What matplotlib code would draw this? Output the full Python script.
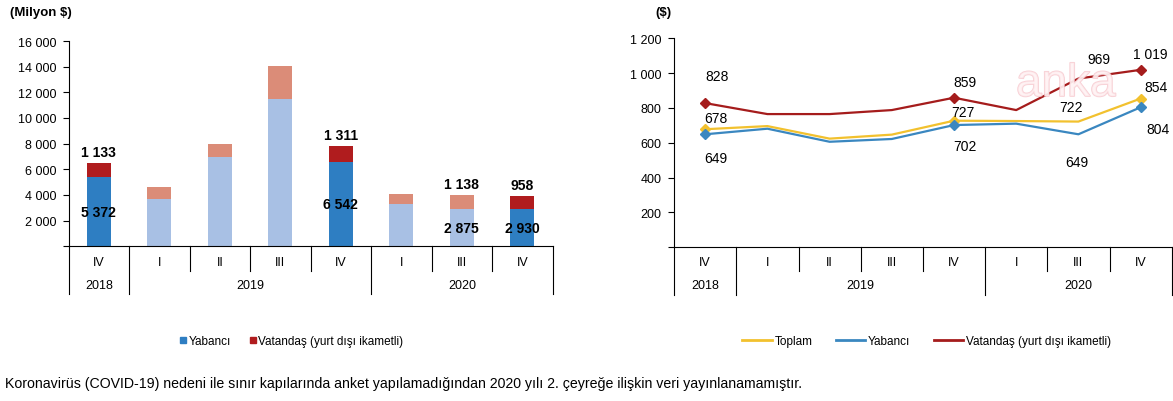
import matplotlib.pyplot as plt
import matplotlib.patheffects as pe
from matplotlib.lines import Line2D
import numpy as np

plt.rcParams['font.family'] = ['Liberation Sans', 'DejaVu Sans']

# kategoriler (2020 Q2 yok)
quarters = ["IV", "I", "II", "III", "IV", "I", "III", "IV"]
years = ["2018", "2019", "2020"]
year_pos = [0, 2.5, 6]

# gelir, milyon $
foreign_spend = [5372, 3662, 6934, 11479, 6542, 3272, 2875, 2930]
citizen_spend = [1133, 935, 1013, 2545, 1311, 779, 1138, 958]
highlight = [True, False, False, False, True, False, False, True]
bar_labelled = [True, False, False, False, True, False, True, True]

# kişi başı harcama, $
total_avg = [678, 696, 624, 647, 727, 725, 722, 854]
foreign_avg = [649, 681, 606, 622, 702, 710, 649, 804]
citizen_avg = [828, 765, 765, 788, 859, 788, 969, 1019]
line_labelled = [0, 4, 6, 7]
line_marked = [0, 4, 7]

# etiket kaydırmaları (piksel)
off_total = [(11, 11), (9, 9), (-7, 15), (15, 12)]
off_foreign = [(11, -24), (11, -21), (-2, -28), (17, -22)]
off_citizen = [(12, 27), (11, 16), (20, 20), (10, 16)]

BLUE_D, BLUE_L = "#2e7ec2", "#a8c0e4"
RED_D, RED_L = "#b01c1e", "#db8c78"
C_TOTAL, C_FOREIGN, C_CITIZEN = "#f2c12e", "#3a87c0", "#a51c1c"


def fmt(v):
    return f"{v:,}".replace(",", " ")


def _format_axes(ax, ymax, step, short_y, long_y, q_y, y_y):
    ax.set_xlim(-0.5, 7.5)
    ax.set_ylim(0, ymax)
    ticks = np.arange(0, ymax + 1, step)
    ax.set_yticks(ticks)
    ax.set_yticklabels([""] + [fmt(int(t)) for t in ticks[1:]], fontsize=9)
    ax.tick_params(axis="y", length=4, width=0.8, pad=5)
    ax.set_xticks([])
    for s in ("top", "right"):
        ax.spines[s].set_visible(False)
    for s in ("left", "bottom"):
        ax.spines[s].set_linewidth(0.8)
    tr = ax.get_xaxis_transform()
    for xb in np.arange(-0.5, 8, 1):
        y_end = long_y if xb in (-0.5, 0.5, 4.5, 7.5) else short_y
        ax.plot([xb, xb], [0, y_end], color="black", lw=0.8,
                transform=tr, clip_on=False)
    for i, q in enumerate(quarters):
        ax.text(i, q_y, q, transform=tr, ha="center", va="center", fontsize=9)
    for yr, xp in zip(years, year_pos):
        ax.text(xp, y_y, yr, transform=tr, ha="center", va="center", fontsize=9)


fig = plt.figure(figsize=(11.73, 4.02), dpi=100)

# --- sol: gelir çubukları
ax1 = fig.add_axes([0.0585, 0.3848, 0.4126, 0.5107])
x = np.arange(len(quarters))
ax1.bar(x, foreign_spend, width=0.4,
        color=[BLUE_D if h else BLUE_L for h in highlight])
ax1.bar(x, citizen_spend, width=0.4, bottom=foreign_spend,
        color=[RED_D if h else RED_L for h in highlight])
for i in x:
    if not bar_labelled[i]:
        continue
    top = foreign_spend[i] + citizen_spend[i]
    ax1.annotate(fmt(citizen_spend[i]), (i, top), xytext=(0, 11),
                 textcoords="offset pixels", ha="center", va="center",
                 fontsize=10, fontweight="bold")
    ax1.text(i, foreign_spend[i] / 2, fmt(foreign_spend[i]), ha="center",
             va="center", fontsize=10, fontweight="bold")
_format_axes(ax1, 16000, 2000, -0.12, -0.232, -0.0765, -0.188)

# --- sağ: kişi başı harcama
ax2 = fig.add_axes([0.5747, 0.3823, 0.4242, 0.5199])
series = [(total_avg, C_TOTAL, off_total),
          (foreign_avg, C_FOREIGN, off_foreign),
          (citizen_avg, C_CITIZEN, off_citizen)]
for vals, col, offs in series:
    ax2.plot(x, vals, color=col, lw=1.6, marker="D", markersize=5,
             markevery=line_marked)
    for idx, (dx, dy) in zip(line_labelled, offs):
        ax2.annotate(fmt(vals[idx]), (idx, vals[idx]), xytext=(dx, dy),
                     textcoords="offset pixels", ha="center", va="center",
                     fontsize=10)
_format_axes(ax2, 1200, 200, -0.113, -0.228, -0.070, -0.180)

# başlıklar
fig.text(10 / 1173, 1 - 13 / 402, "(Milyon $)", fontsize=9.5,
         fontweight="bold", va="center")
fig.text(655 / 1173, 1 - 13 / 402, "($)", fontsize=9.5,
         fontweight="bold", va="center")

# filigran
fig.text(1066 / 1173, 1 - 97 / 402, "anka", fontsize=33, color="#fff3f4",
         ha="center", va="baseline", alpha=0.7, zorder=0,
         path_effects=[pe.withStroke(linewidth=1.2, foreground="#f5bcc3")])

# lejantlar
h1 = [Line2D([], [], marker="s", ls="none", color=BLUE_D, markersize=5),
      Line2D([], [], marker="s", ls="none", color=RED_D, markersize=5)]
fig.legend(h1, ["Yabancı", "Vatandaş (yurt dışı ikametli)"], ncol=2,
           loc="center", bbox_to_anchor=(0.2485, 1 - 342 / 402),
           frameon=False, fontsize=8.5, handlelength=0.6,
           handletextpad=0.2, columnspacing=1.5)
h2 = [Line2D([], [], color=c, lw=2) for c in (C_TOTAL, C_FOREIGN, C_CITIZEN)]
fig.legend(h2, ["Toplam", "Yabancı", "Vatandaş (yurt dışı ikametli)"],
           ncol=3, loc="center", bbox_to_anchor=(0.790, 1 - 342 / 402),
           frameon=False, fontsize=8.5, handlelength=2.5,
           handletextpad=0.2, columnspacing=2.0)

fig.text(5 / 1173, 1 - 384 / 402,
         "Koronavirüs (COVID-19) nedeni ile sınır kapılarında anket "
         "yapılamadığından 2020 yılı 2. çeyreğe ilişkin veri yayınlanamamıştır.",
         fontsize=10.2, va="center")

fig.savefig("out.png", dpi=100)
